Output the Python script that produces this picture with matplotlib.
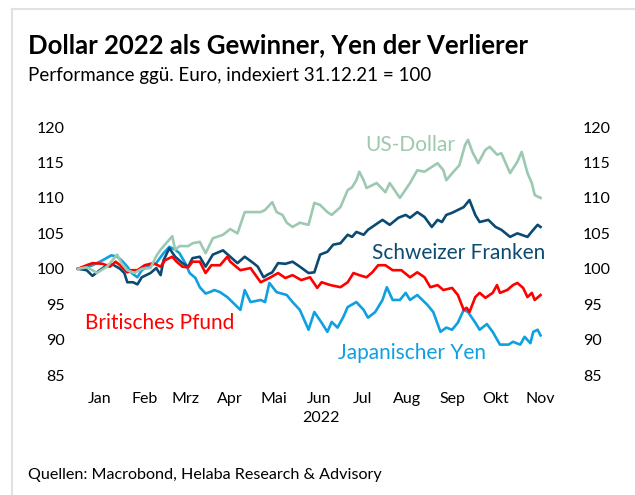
import datetime
import matplotlib
matplotlib.use("Agg")
import matplotlib.pyplot as plt
import matplotlib.dates as mdates
from matplotlib.lines import Line2D

plt.rcParams["font.family"] = ["Lato", "DejaVu Sans"]

base = datetime.date(2022, 1, 1)

# days after 1 Jan 2022 and index values (31.12.21 = 100)
usd_days = [0, 6, 10, 13, 20, 27, 30, 34, 39, 44, 50, 54, 57, 60, 65, 67, 70, 76, 79, 84,
            88, 93, 100, 105, 110, 115, 119, 126, 129, 134, 137, 141, 144, 148, 153, 159,
            163, 167, 172, 175, 181, 186, 189, 192, 194, 197, 199, 206, 212, 215, 222, 229,
            234, 239, 248, 252, 254, 259, 263, 267, 269, 272, 276, 281, 284, 289, 292, 298,
            303, 306, 310, 313, 315, 319]
usd = [100.0, 100.2, 99.8, 99.4, 100.3, 102.0, 100.8, 99.8, 99.4, 100.0, 100.1, 101.8, 102.7,
       103.4, 104.6, 102.7, 103.2, 103.2, 103.6, 103.8, 102.2, 104.3, 104.8, 105.6, 105.0,
       108.0, 108.0, 108.0, 108.3, 109.4, 108.0, 107.6, 106.5, 105.9, 106.5, 106.2, 109.3,
       109.0, 108.0, 107.6, 108.7, 111.1, 111.5, 112.5, 113.7, 112.5, 111.4, 112.1, 110.8,
       112.1, 110.0, 112.1, 113.9, 113.7, 114.9, 113.9, 112.5, 113.7, 114.6, 117.5, 118.2,
       116.5, 114.9, 116.8, 117.2, 116.1, 116.3, 113.5, 115.1, 116.5, 113.5, 112.1, 110.4,
       110.0]

chf_days = [0, 6, 10, 15, 20, 24, 29, 32, 34, 38, 41, 44, 50, 54, 57, 59, 63, 67, 72, 76, 79,
            84, 88, 93, 100, 105, 110, 115, 121, 124, 128, 131, 134, 138, 143, 148, 153, 159,
            163, 167, 172, 176, 181, 186, 189, 192, 197, 200, 205, 210, 215, 221, 226, 229,
            234, 239, 244, 248, 251, 254, 258, 262, 266, 270, 274, 277, 283, 288, 292, 298,
            303, 310, 314, 317, 319]
chf = [100.0, 99.8, 99.0, 99.8, 100.5, 100.6, 100.0, 99.4, 98.1, 98.1, 97.8, 98.8, 99.4, 100.1,
       99.1, 101.2, 102.9, 101.7, 100.8, 100.3, 101.5, 101.7, 100.3, 102.0, 102.6, 101.7, 100.8,
       101.7, 100.8, 100.3, 98.8, 99.2, 99.5, 100.8, 100.7, 101.0, 100.3, 99.4, 99.5, 102.0,
       102.4, 103.4, 103.6, 104.8, 104.5, 105.2, 104.8, 105.5, 106.2, 106.9, 106.2, 107.2,
       107.6, 107.2, 108.0, 107.3, 105.9, 106.9, 106.6, 107.6, 107.9, 108.3, 108.7, 109.7,
       107.6, 106.6, 106.9, 105.9, 105.5, 104.5, 105.0, 104.5, 105.5, 106.2, 105.9]

gbp_days = [0, 6, 10, 17, 22, 26, 29, 34, 37, 41, 46, 52, 57, 60, 65, 68, 72, 76, 79, 84, 88,
            92, 98, 103, 105, 112, 119, 126, 132, 138, 143, 148, 154, 160, 165, 168, 174, 181,
            186, 190, 194, 199, 203, 207, 212, 217, 223, 229, 234, 239, 243, 248, 252, 258,
            262, 266, 268, 270, 274, 277, 281, 286, 289, 291, 296, 300, 303, 307, 310, 313,
            315, 319]
gbp = [100.0, 100.5, 100.8, 100.7, 100.3, 101.0, 100.5, 99.5, 99.8, 99.8, 100.5, 100.8, 100.3,
       101.2, 101.7, 101.0, 100.3, 100.2, 101.0, 101.0, 99.4, 100.5, 100.5, 101.7, 101.0, 99.8,
       100.1, 98.1, 98.7, 99.4, 98.7, 99.1, 98.4, 98.8, 97.3, 98.1, 97.7, 97.4, 98.1, 99.4,
       99.1, 98.8, 99.5, 100.5, 100.5, 99.8, 99.8, 98.8, 99.5, 98.8, 97.4, 97.7, 97.0, 97.3,
       96.3, 94.2, 94.5, 93.9, 96.0, 96.6, 95.9, 96.6, 97.7, 96.6, 97.0, 97.7, 98.0, 97.3,
       96.0, 96.6, 95.6, 96.3]

jpy_days = [0, 5, 10, 17, 23, 27, 30, 34, 37, 41, 44, 48, 54, 59, 63, 67, 70, 74, 77, 81, 84,
            88, 92, 94, 98, 103, 107, 112, 115, 119, 126, 129, 132, 137, 144, 148, 153, 159,
            163, 168, 172, 175, 179, 183, 186, 192, 197, 200, 205, 210, 213, 217, 222, 226,
            229, 234, 241, 245, 250, 254, 258, 262, 266, 269, 274, 277, 282, 286, 291, 297,
            300, 305, 308, 312, 314, 317, 319]
jpy = [100.0, 100.1, 100.5, 101.2, 101.9, 101.7, 101.2, 100.3, 99.4, 98.8, 99.8, 100.3, 100.8,
       102.2, 103.1, 102.7, 102.2, 100.8, 99.4, 98.7, 97.4, 96.5, 96.8, 97.0, 96.7, 96.0, 95.2,
       94.2, 97.0, 95.3, 95.6, 95.3, 98.0, 96.7, 96.3, 95.3, 94.2, 91.4, 93.9, 92.4, 91.1,
       92.5, 91.7, 93.2, 94.6, 95.3, 94.2, 93.1, 93.9, 95.6, 97.4, 95.6, 95.6, 96.6, 95.6,
       96.3, 94.9, 93.9, 91.1, 91.7, 91.4, 92.4, 94.2, 93.9, 92.4, 91.4, 92.2, 91.1, 89.3,
       89.3, 89.7, 89.3, 90.4, 89.5, 91.1, 91.4, 90.6]

months = ["Jan", "Feb", "Mrz", "Apr", "Mai", "Jun", "Jul", "Aug", "Sep", "Okt", "Nov"]
yticks = [85, 90, 95, 100, 105, 110, 115, 120]

c_usd = "#9DC9B0"
c_chf = "#0B4A73"
c_gbp = "#FF0000"
c_jpy = "#0EA0E0"


def to_dates(days):
    return [base + datetime.timedelta(days=d) for d in days]


fig = plt.figure(figsize=(6.35, 4.95), dpi=100)
ax = fig.add_axes([70 / 635, 1 - 385 / 495, 502 / 635, 270 / 495])

lw = 1.9
ax.plot(to_dates(jpy_days), jpy, color=c_jpy, lw=lw)
ax.plot(to_dates(chf_days), chf, color=c_chf, lw=lw)
ax.plot(to_dates(gbp_days), gbp, color=c_gbp, lw=lw)
ax.plot(to_dates(usd_days), usd, color=c_usd, lw=lw)

x0 = mdates.date2num(base)
ax.set_xlim(x0 - 5.5, x0 + 340.7)
ax.set_ylim(83.6, 121.7)

ax.set_xticks([datetime.date(2022, m, 16) for m in range(1, 12)])
ax.set_xticklabels(months)
ax.set_yticks(yticks)
ax.tick_params(axis="x", length=0, pad=5, labelsize=11.5)
ax.tick_params(axis="y", length=0, pad=4, labelsize=11.5)
ax.set_xlabel("2022", fontsize=11.5, labelpad=4)

# same scale repeated on the right
axr = ax.twinx()
axr.set_ylim(ax.get_ylim())
axr.set_yticks(yticks)
axr.tick_params(axis="y", length=0, pad=8, labelsize=11.5)

for a in (ax, axr):
    for s in a.spines.values():
        s.set_visible(False)

# series labels
fs = 15
ax.text(x0 + 198, 117.5, "US-Dollar", color=c_usd, fontsize=fs, va="center")
ax.text(x0 + 203, 102.2, "Schweizer Franken", color=c_chf, fontsize=fs, va="center")
ax.text(x0 + 5, 92.3, "Britisches Pfund", color=c_gbp, fontsize=fs, va="center")
ax.text(x0 + 179, 88.1, "Japanischer Yen", color=c_jpy, fontsize=fs, va="center")

# titles and source
fig.text(28 / 635, 1 - 45 / 495, "Dollar 2022 als Gewinner, Yen der Verlierer",
         fontsize=18.5, fontweight="bold", va="center")
fig.text(28 / 635, 1 - 75 / 495, "Performance ggü. Euro, indexiert 31.12.21 = 100",
         fontsize=13.5, va="center")
fig.text(28 / 635, 1 - 475 / 495, "Quellen: Macrobond, Helaba Research & Advisory",
         fontsize=11.6, va="center")

# light frame on top and left
fig.add_artist(Line2D([12 / 635, 12 / 635], [0, 1 - 9 / 495], transform=fig.transFigure,
                      color="#E2E2E2", lw=1.5))
fig.add_artist(Line2D([12 / 635, 1], [1 - 9 / 495, 1 - 9 / 495], transform=fig.transFigure,
                      color="#E2E2E2", lw=1.5))

fig.savefig("out.png", dpi=100)
